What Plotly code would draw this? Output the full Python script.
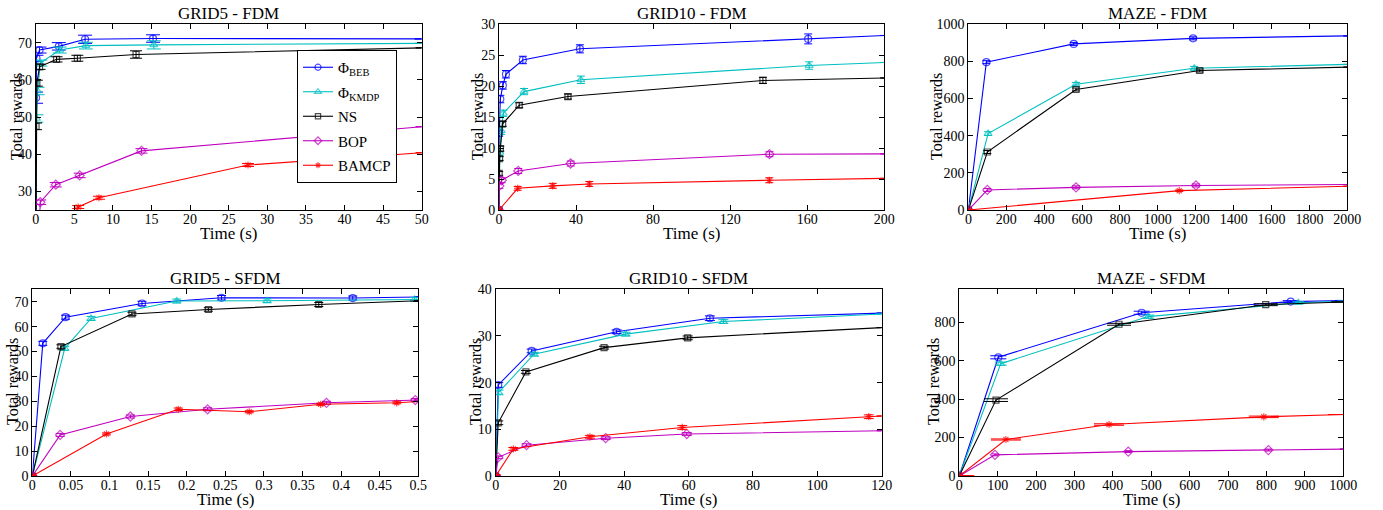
import plotly.graph_objects as go

# ---------------- DATA ----------------
series_names = ["Φ<sub>BEB</sub>", "Φ<sub>KMDP</sub>", "NS", "BOP", "BAMCP"]
panel_titles = ["GRID5 - FDM", "GRID10 - FDM", "MAZE - FDM",
                "GRID5 - SFDM", "GRID10 - SFDM", "MAZE - SFDM"]
x_label = "Time (s)"
y_label = "Total rewards"

# GRID5 - FDM
g5f_beb_x = [0, 0.05, 0.1, 0.5, 3.0, 6.4, 15.2, 50]
g5f_beb_y = [0, 55.2, 65.8, 68.0, 69.0, 70.9, 71.1, 71.0]
g5f_beb_e = [0, 1.5, 0.8, 0.8, 1.0, 1.1, 1.0, 0]
g5f_kmdp_x = [0, 0.1, 0.25, 0.6, 3.1, 6.5, 15.3, 50]
g5f_kmdp_y = [0, 49.6, 57.0, 64.5, 68.0, 69.2, 69.4, 69.8]
g5f_kmdp_e = [0, 1.0, 1.0, 0.8, 0.8, 0.9, 1.1, 0]
g5f_ns_x = [0, 0.05, 0.15, 0.5, 2.7, 5.4, 13.0, 50]
g5f_ns_y = [0, 47.5, 59.1, 63.5, 65.5, 65.8, 66.8, 68.6]
g5f_ns_e = [0, 0.9, 0.8, 0.7, 0.7, 0.8, 1.0, 0]
g5f_bop_x = [0, 0.6, 2.6, 5.7, 13.7, 50]
g5f_bop_y = [0, 27.1, 31.8, 34.3, 40.9, 47.4]
g5f_bop_e = [0, 0.6, 0.6, 0.6, 0.6, 0]
g5f_bamcp_x = [0, 5.5, 8.2, 27.5, 50]
g5f_bamcp_y = [0, 25.8, 28.3, 37.1, 40.4]
g5f_bamcp_e = [0, 0.4, 0.4, 0.4, 0]

# GRID10 - FDM
g10f_beb_x = [0, 0.1, 0.7, 2.0, 3.6, 12.4, 42, 160.5, 200]
g10f_beb_y = [0, 12.4, 17.9, 20.1, 21.9, 24.2, 26.0, 27.6, 28.15]
g10f_beb_e = [0, 0.5, 0.6, 0.6, 0.6, 0.6, 0.65, 0.8, 0]
g10f_kmdp_x = [0, 0.5, 1.2, 2.2, 13, 42.5, 161, 200]
g10f_kmdp_y = [0, 9.3, 12.8, 15.6, 19.1, 21.0, 23.3, 23.8]
g10f_kmdp_e = [0, 0.6, 0.6, 0.5, 0.5, 0.6, 0.6, 0]
g10f_ns_x = [0, 0.1, 0.3, 0.7, 1.9, 10.5, 35.8, 137, 200]
g10f_ns_y = [0, 5.9, 8.3, 9.9, 13.9, 16.9, 18.3, 20.9, 21.3]
g10f_ns_e = [0, 0.3, 0.3, 0.4, 0.4, 0.4, 0.4, 0.5, 0]
g10f_bop_x = [0, 0.2, 1.4, 10, 37.2, 140.4, 200]
g10f_bop_y = [0, 3.9, 4.8, 6.3, 7.5, 9.0, 9.05]
g10f_bop_e = [0, 0.4, 0.4, 0.4, 0.4, 0.4, 0]
g10f_bamcp_x = [0, 9.7, 27.9, 46.9, 140.3, 200]
g10f_bamcp_y = [0, 3.5, 3.9, 4.2, 4.8, 5.1]
g10f_bamcp_e = [0, 0.3, 0.4, 0.4, 0.4, 0]

# MAZE - FDM
mzf_beb_x = [0, 95, 556, 1186, 2000]
mzf_beb_y = [0, 795, 893, 923, 936]
mzf_beb_e = [0, 8, 8, 8, 0]
mzf_kmdp_x = [0, 104, 568, 1192, 2000]
mzf_kmdp_y = [0, 411, 676, 762, 783]
mzf_kmdp_e = [0, 10, 10, 10, 0]
mzf_ns_x = [0, 100, 568, 1221, 2000]
mzf_ns_y = [0, 312, 648, 750, 768]
mzf_ns_e = [0, 8, 8, 8, 0]
mzf_bop_x = [0, 100, 568, 1201, 2000]
mzf_bop_y = [0, 108, 122, 132, 137]
mzf_bop_e = [0, 8, 8, 8, 0]
mzf_bamcp_x = [0, 1113, 2000]
mzf_bamcp_y = [0, 104, 128]
mzf_bamcp_e = [4, 4, 0]

# GRID5 - SFDM
g5s_beb_x = [0, 0.0135, 0.043, 0.142, 0.245, 0.415, 0.5]
g5s_beb_y = [0, 53.3, 63.8, 69.3, 71.6, 71.5, 71.9]
g5s_beb_e = [0, 0.8, 0.8, 0.9, 0.9, 0.8, 0]
g5s_kmdp_x = [0, 0.042, 0.076, 0.187, 0.304, 0.495, 0.5]
g5s_kmdp_y = [0, 51.3, 63.3, 70.3, 70.4, 70.9, 70.9]
g5s_kmdp_e = [0, 0.8, 0.8, 0.8, 0.8, 0.8, 0]
g5s_ns_x = [0, 0.037, 0.129, 0.228, 0.371, 0.5]
g5s_ns_y = [0, 52.0, 65.1, 66.9, 68.9, 70.4]
g5s_ns_e = [0, 0.7, 0.7, 0.7, 0.8, 0]
g5s_bop_x = [0, 0.036, 0.127, 0.227, 0.381, 0.496, 0.5]
g5s_bop_y = [0, 16.5, 23.9, 26.8, 29.4, 30.5, 30.5]
g5s_bop_e = [0, 0.6, 0.6, 0.6, 0.6, 0.6, 0]
g5s_bamcp_x = [0, 0.096, 0.189, 0.281, 0.3735, 0.472, 0.5]
g5s_bamcp_y = [0, 16.9, 26.8, 25.8, 28.8, 29.4, 29.9]
g5s_bamcp_e = [0.4, 0.4, 0.5, 0.4, 0.4, 0.4, 0]

# GRID10 - SFDM
g10s_beb_x = [0, 0.8, 11.2, 37.6, 66.6, 120]
g10s_beb_y = [0, 19.5, 26.8, 30.9, 33.8, 34.9]
g10s_beb_e = [0, 0.5, 0.4, 0.4, 0.5, 0]
g10s_kmdp_x = [0, 0.9, 11.9, 40.4, 70.8, 120]
g10s_kmdp_y = [0, 17.9, 26.1, 30.4, 33.1, 34.7]
g10s_kmdp_e = [0, 0.5, 0.4, 0.4, 0.4, 0]
g10s_ns_x = [0, 0.8, 9.4, 33.7, 59.7, 120]
g10s_ns_y = [0, 11.4, 22.3, 27.5, 29.6, 31.8]
g10s_ns_e = [0, 0.4, 0.3, 0.3, 0.4, 0]
g10s_bop_x = [0, 0.8, 9.6, 34.2, 59.4, 120]
g10s_bop_y = [0, 4.0, 6.6, 8.1, 9.0, 9.7]
g10s_bop_e = [0, 0.3, 0.3, 0.3, 0.3, 0]
g10s_bamcp_x = [0, 5.5, 29.3, 58, 116, 120]
g10s_bamcp_y = [0, 5.8, 8.4, 10.4, 12.7, 12.85]
g10s_bamcp_e = [0.3, 0.3, 0.3, 0.4, 0.4, 0]

# MAZE - SFDM
mzs_beb_x = [0, 101.6, 475, 863, 1000]
mzs_beb_y = [0, 618, 850, 908, 914]
mzs_beb_e = [0, 8, 8, 5, 0]
mzs_kmdp_x = [0, 108, 492, 883, 1000]
mzs_kmdp_y = [0, 585, 830, 902, 910]
mzs_kmdp_e = [0, 8, 8, 5, 0]
mzs_ns_x = [0, 95.6, 416, 798, 1000]
mzs_ns_y = [0, 395, 790, 892, 906]
mzs_ns_e = [0, 7, 5, 5, 0]
mzs_bop_x = [0, 93, 440, 805, 1000]
mzs_bop_y = [0, 110, 127, 135, 140]
mzs_bop_e = [0, 5, 5, 5, 0]
mzs_bamcp_x = [0, 121.5, 390, 793, 1000]
mzs_bamcp_y = [0, 190, 268, 308, 320]
mzs_bamcp_e = [2, 3, 4, 4, 0]

# axis ranges and ticks
x_ranges = [[0, 50], [0, 200], [0, 2000], [0, 0.5], [0, 120], [0, 1000]]
x_dticks = [5, 40, 200, 0.05, 20, 100]
y_ranges = [[25, 75], [0, 30], [0, 1000], [0, 75], [0, 40], [0, 972]]
y_dticks = [10, 5, 200, 10, 10, 200]
y_tick0 = [30, 0, 0, 0, 0, 0]

# ---------------- STYLE ----------------
colors = ["#0000FF", "#00BFBF", "#000000", "#BF00BF", "#FF0000"]
symbols = ["circle-open", "triangle-up-open", "square-open", "diamond-open", "asterisk-open"]
msizes = [7, 7, 6, 7, 6]
cap_w = [[7, 7, 6, 6, 6], [4, 4, 4, 4, 4], [4, 4, 4, 4, 4],
         [4.5, 4.5, 4.5, 4.5, 4.5], [5, 5, 5, 5, 5], [8, 6, 12, 3.5, 15]]

x_domains = [[0.0258, 0.3049], [0.3608, 0.6394], [0.7002, 0.9742],
             [0.0234, 0.3025], [0.3584, 0.6375], [0.6936, 0.9713]]
y_domains = [[0.5882, 0.9529]] * 3 + [[0.0667, 0.4327]] * 3
W, H = 1383, 510
title_y_px = [13, 13, 13, 278, 278, 278]
xlabel_y_px = [234, 234, 234, 499, 499, 499]
ylabel_x_px = [17, 478, 937, 12, 475, 933]
ylabel_y_px = [117, 117, 117, 382, 382, 382]

panels = [
    [(g5f_beb_x, g5f_beb_y, g5f_beb_e), (g5f_kmdp_x, g5f_kmdp_y, g5f_kmdp_e),
     (g5f_ns_x, g5f_ns_y, g5f_ns_e), (g5f_bop_x, g5f_bop_y, g5f_bop_e),
     (g5f_bamcp_x, g5f_bamcp_y, g5f_bamcp_e)],
    [(g10f_beb_x, g10f_beb_y, g10f_beb_e), (g10f_kmdp_x, g10f_kmdp_y, g10f_kmdp_e),
     (g10f_ns_x, g10f_ns_y, g10f_ns_e), (g10f_bop_x, g10f_bop_y, g10f_bop_e),
     (g10f_bamcp_x, g10f_bamcp_y, g10f_bamcp_e)],
    [(mzf_beb_x, mzf_beb_y, mzf_beb_e), (mzf_kmdp_x, mzf_kmdp_y, mzf_kmdp_e),
     (mzf_ns_x, mzf_ns_y, mzf_ns_e), (mzf_bop_x, mzf_bop_y, mzf_bop_e),
     (mzf_bamcp_x, mzf_bamcp_y, mzf_bamcp_e)],
    [(g5s_beb_x, g5s_beb_y, g5s_beb_e), (g5s_kmdp_x, g5s_kmdp_y, g5s_kmdp_e),
     (g5s_ns_x, g5s_ns_y, g5s_ns_e), (g5s_bop_x, g5s_bop_y, g5s_bop_e),
     (g5s_bamcp_x, g5s_bamcp_y, g5s_bamcp_e)],
    [(g10s_beb_x, g10s_beb_y, g10s_beb_e), (g10s_kmdp_x, g10s_kmdp_y, g10s_kmdp_e),
     (g10s_ns_x, g10s_ns_y, g10s_ns_e), (g10s_bop_x, g10s_bop_y, g10s_bop_e),
     (g10s_bamcp_x, g10s_bamcp_y, g10s_bamcp_e)],
    [(mzs_beb_x, mzs_beb_y, mzs_beb_e), (mzs_kmdp_x, mzs_kmdp_y, mzs_kmdp_e),
     (mzs_ns_x, mzs_ns_y, mzs_ns_e), (mzs_bop_x, mzs_bop_y, mzs_bop_e),
     (mzs_bamcp_x, mzs_bamcp_y, mzs_bamcp_e)],
]

FONT = "Liberation Serif"
fig = go.Figure()
layout = dict(
    width=W, height=H,
    margin=dict(l=0, r=0, t=0, b=0, autoexpand=False),
    paper_bgcolor="white", plot_bgcolor="white",
    font=dict(family=FONT, size=14, color="black"),
    showlegend=True,
    legend=dict(x=297 / W, y=1 - 50 / H, xanchor="left", yanchor="top",
                bordercolor="black", borderwidth=1, bgcolor="white",
                font=dict(family=FONT, size=15, color="black"),
                tracegroupgap=2, itemwidth=30, traceorder="grouped"),
)
annotations = []
for p in range(6):
    ax = "" if p == 0 else str(p + 1)
    xa = "x" + ax
    ya = "y" + ax
    for s, (xs, ys, es) in enumerate(panels[p]):
        n = len(xs)
        sizes = [msizes[s]] * n
        if xs[-1] >= x_ranges[p][1] * 0.999:
            sizes[-1] = 0
        fig.add_trace(go.Scatter(
            x=xs, y=ys, mode="lines+markers", name=series_names[s],
            legendgroup="g%d" % s,
            xaxis=xa, yaxis=ya, showlegend=(p == 0),
            line=dict(color=colors[s], width=1.1),
            marker=dict(symbol=symbols[s], size=sizes, color=colors[s],
                        line=dict(color=colors[s], width=1.2)),
            error_y=dict(type="data", array=es, visible=True, color=colors[s],
                         thickness=1, width=cap_w[p][s]),
        ))
    axis_common = dict(showline=True, linecolor="black", linewidth=1, mirror="ticks",
                       ticks="inside", ticklen=5, tickcolor="black", showgrid=False,
                       zeroline=False, automargin=False,
                       tickfont=dict(family=FONT, size=14, color="black"))
    layout["xaxis" + ax] = dict(axis_common, domain=x_domains[p], range=x_ranges[p],
                                dtick=x_dticks[p], tick0=0, anchor=ya, ticklabelstandoff=-4)
    layout["yaxis" + ax] = dict(axis_common, domain=y_domains[p], range=y_ranges[p],
                                dtick=y_dticks[p], tick0=y_tick0[p], anchor=xa)
    cx = (x_domains[p][0] + x_domains[p][1]) / 2
    annotations.append(dict(text=panel_titles[p], xref="paper", yref="paper",
                            x=cx, y=1 - title_y_px[p] / H, xanchor="center", yanchor="middle",
                            showarrow=False, font=dict(family=FONT, size=17, color="black")))
    annotations.append(dict(text=x_label, xref="paper", yref="paper",
                            x=cx, y=1 - xlabel_y_px[p] / H, xanchor="center", yanchor="middle",
                            showarrow=False, font=dict(family=FONT, size=17, color="black")))
    annotations.append(dict(text=y_label, xref="paper", yref="paper", textangle=-90,
                            x=ylabel_x_px[p] / W, y=1 - ylabel_y_px[p] / H,
                            xanchor="center", yanchor="middle",
                            showarrow=False, font=dict(family=FONT, size=16, color="black")))
layout["annotations"] = annotations
fig.update_layout(**layout)
fig.write_html("out.html", config={"displayModeBar": False},
               post_script="document.body.style.margin='0';")
